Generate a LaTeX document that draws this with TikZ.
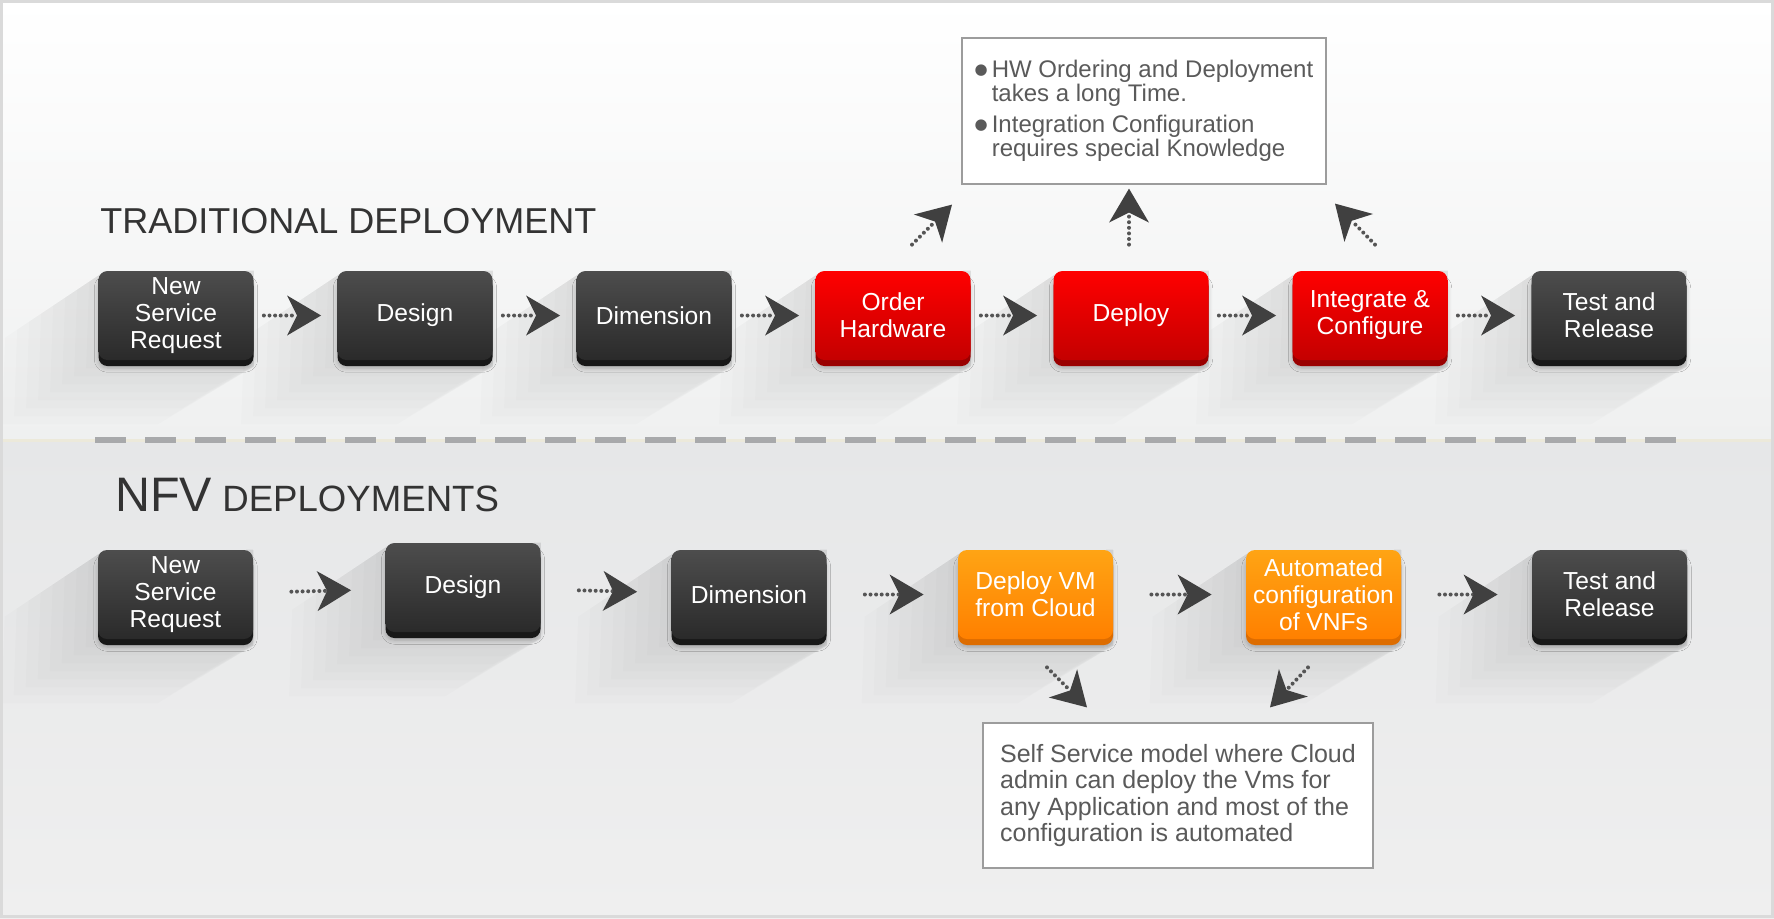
\documentclass[tikz,border=0pt]{standalone}
\usepackage{fontspec}
\setmainfont{Liberation Sans}
\newfontfamily\symfont{DejaVu Sans}
\usetikzlibrary{arrows.meta,backgrounds,shadows.blur,calc}

\definecolor{boxtop}{HTML}{4D4D4D}
\definecolor{boxbot}{HTML}{2A2A2A}
\definecolor{boxlip}{HTML}{181818}
\definecolor{redtop}{HTML}{FF0000}
\definecolor{redbot}{HTML}{C40000}
\definecolor{redlip}{HTML}{9A0000}
\definecolor{orgtop}{HTML}{FFA414}
\definecolor{orgbot}{HTML}{FF8000}
\definecolor{orglip}{HTML}{DD6C00}
\definecolor{dotgray}{HTML}{555555}
\definecolor{tipgray}{HTML}{404040}
\definecolor{notegray}{HTML}{5A5A5A}
\definecolor{noteline}{HTML}{9C9C9C}
\definecolor{titlegray}{HTML}{333333}
\definecolor{dashgray}{HTML}{A8A9AB}
\definecolor{creamline}{HTML}{ECE9DA}
\definecolor{framegray}{HTML}{DADADA}
\definecolor{bgA}{HTML}{FFFFFF}
\definecolor{bgB}{HTML}{EFF0F0}
\definecolor{bgC}{HTML}{E6E7E8}
\definecolor{bgD}{HTML}{EFEFEF}

\newcommand{\notedot}{\raisebox{1.7pt}{\symfont\fontsize{7.5}{12}\selectfont ●}}

\begin{document}
\begin{tikzpicture}[x=0.5pt,y=-0.5pt,
    stepbox/.style={rounded corners=4.5pt,minimum width=77.5pt,minimum height=44.5pt,
      inner sep=0pt,align=center,text=white,font=\fontsize{12.3}{13.5}\selectfont,
      blur shadow={shadow xshift=0pt,shadow yshift=-4pt,shadow opacity=22,shadow blur steps=6}},
    darkbox/.style={stepbox,top color=boxtop,bottom color=boxbot,
      preaction={fill=boxlip,transform canvas={yshift=-3pt}}},
    redbox/.style={stepbox,top color=redtop,bottom color=redbot,
      preaction={fill=redlip,transform canvas={yshift=-3pt}}},
    orangebox/.style={stepbox,top color=orgtop,bottom color=orgbot,
      preaction={fill=orglip,transform canvas={yshift=-3pt}}},
    notebox/.style={draw=noteline,line width=1pt,fill=white,text=notegray,align=left},
    flow/.style={dotgray,line width=2pt,line cap=round,dash pattern=on 0pt off 2.8pt,
      -{Stealth[length=17pt,width=20pt,inset=5pt,line width=0pt,color=tipgray]}},
    heading/.style={anchor=base west,inner sep=0pt,text=titlegray}]
  \useasboundingbox (0,0) rectangle (1774,918);

  % headings
  \node[heading,font=\fontsize{18}{22}\selectfont] (trad) at (100,233.5) {TRADITIONAL DEPLOYMENT};
  \node[heading,font=\fontsize{18.3}{22}\selectfont] (nfv) at (115,511.5)
    {{\fontsize{24.2}{28}\selectfont NFV} DEPLOYMENTS};

  % traditional flow
  \draw
    (176,315.5) node[darkbox] (t1) {New\\Service\\Request}
    (415,315.5) node[darkbox] (t2) {Design}
    (654,315.5) node[darkbox] (t3) {Dimension}
    (893,315.5) node[redbox] (t4) {Order\\Hardware}
    (1131,315.5) node[redbox] (t5) {Deploy}
    (1370,315.5) node[redbox] (t6) {Integrate \&\\Configure}
    (1609,315.5) node[darkbox] (t7) {Test and\\Release};

  % nfv flow
  \draw
    (175.5,594.5) node[darkbox] (b1) {New\\Service\\Request}
    (463,587.5) node[darkbox] (b2) {Design}
    (749,594.5) node[darkbox] (b3) {Dimension}
    (1035.5,594.5) node[orangebox] (b4) {Deploy VM\\from Cloud}
    (1323.5,594.5) node[orangebox] (b5) {Automated\\configuration\\of VNFs}
    (1609.5,594.5) node[darkbox] (b6) {Test and\\Release};

  % notes
  \node[notebox,minimum width=182pt,minimum height=73pt,font=\fontsize{12}{12}\selectfont] (hwnote) at (1144,111)
    {\notedot\,HW Ordering and Deployment\\
     \hphantom{\notedot}\,takes a long Time.\\[3.5pt]
     \notedot\,Integration Configuration\\
     \hphantom{\notedot}\,requires special Knowledge};
  \node[notebox,minimum width=195pt,minimum height=72.5pt,font=\fontsize{12.5}{13.2}\selectfont] (ssnote) at (1178,795.5)
    {Self Service model where Cloud\\
     admin can deploy the Vms for\\
     any Application and most of the\\
     configuration is automated};

  \coordinate (u1) at ($(t4.north)+(19,-26)$);
  \coordinate (u1e) at ($(t4.north)+(59,-66)$);
  \coordinate (u2) at ($(t5.north)+(-2,-26)$);
  \coordinate (u2e) at ($(t5.north)+(-2,-82)$);
  \coordinate (u3) at ($(t6.north)+(5,-26)$);
  \coordinate (u3e) at ($(t6.north)+(-35,-67)$);
  \coordinate (d1) at ($(b4.south)+(11.5,28)$);
  \coordinate (d1e) at ($(b4.south)+(51.5,68)$);
  \coordinate (d2) at ($(b5.south)+(-15.5,28)$);
  \coordinate (d2e) at ($(b5.south)+(-53.5,68)$);

  \begin{scope}[flow,shorten <=5pt,shorten >=8pt]
    \draw (t1) -- (t2);
    \draw (t2) -- (t3);
    \draw (t3) -- (t4);
    \draw (t4) -- (t5);
    \draw (t5) -- (t6);
    \draw (t6) -- (t7);
  \end{scope}
  \begin{scope}[flow,shorten <=19pt,shorten >=17pt]
    \draw (b1) -- (b2);
    \draw (b2) -- (b3);
    \draw (b3) -- (b4);
    \draw (b4) -- (b5);
    \draw (b5) -- (b6);
  \end{scope}
  \begin{scope}[flow]
    \draw (u1) -- (u1e);
    \draw (u2) -- (u2e);
    \draw (u3) -- (u3e);
    \draw (d1) -- (d1e);
    \draw (d2) -- (d2e);
  \end{scope}

  % background, separator and long shadows
  \begin{scope}[on background layer]
    \fill[top color=bgA,bottom color=bgB] (0,0) rectangle (1774,440);
    \fill[top color=bgC,bottom color=bgD] (0,440) rectangle (1774,918);
    \draw[creamline,line width=1.5pt] (0,440) -- (1774,440);
    \draw[dashgray,line width=3pt,dash pattern=on 15.5pt off 9.5pt] (95,440) -- (1676,440);
    \foreach \n in {t1,t2,t3,t4,t5,t6,t7,b1,b2,b3,b4,b5,b6} {
      \foreach \k in {1,...,8} {
        \fill[black,opacity=0.013] ($(\n.north west)+(3,3)$) -- (\n.north east) -- ($(\n.south east)+(0,6)$)
          -- ($(\n.south east)+(-12*\k,8*\k)$) -- ($(\n.south west)+(-12*\k,8*\k)$)
          -- ($(\n.north west)+(3-12*\k,3+8*\k)$) -- cycle;
      }
    }
    \draw[framegray,line width=1.5pt] (1.5,1.5) rectangle (1772.5,916.5);
  \end{scope}
\end{tikzpicture}
\end{document}
